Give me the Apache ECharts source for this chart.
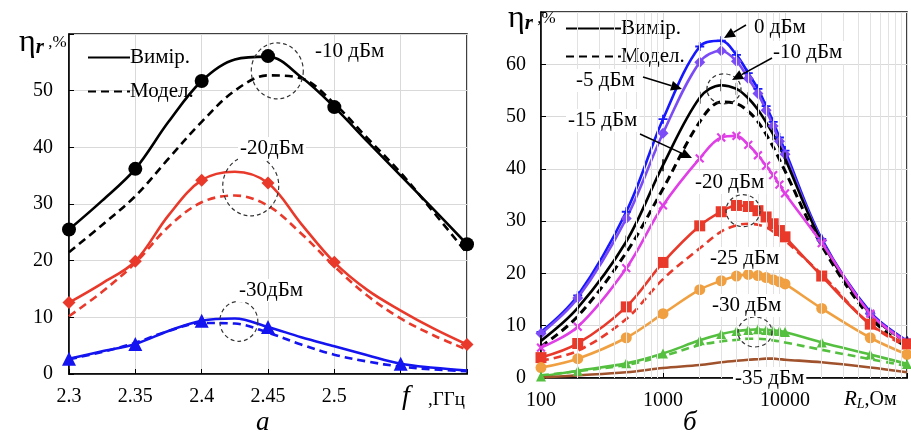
<!DOCTYPE html>
<html><head><meta charset="utf-8">
<script src="https://cdn.jsdelivr.net/npm/echarts@6/dist/echarts.min.js"></script>
<style>html,body{margin:0;padding:0;background:#fff}#c{width:911px;height:438px}</style>
</head><body><div id="c"></div>
<script>
// ---------- Panel (a): efficiency vs frequency ----------
const fGrid = [2.3,2.325,2.35,2.375,2.4,2.425,2.45,2.475,2.5,2.525,2.55,2.575,2.6];
const a10Meas = [25.5,30.6,36.2,44.5,51.7,55.5,56.0,52.4,47.1,41.0,35.0,29.0,22.9];
const a10Model = [21.5,26.3,31.4,38.0,44.5,50.0,52.7,52.2,47.7,41.6,35.5,28.5,21.3];
const a20Meas = [12.6,16.0,19.9,28.0,34.2,35.7,33.7,26.5,19.7,14.8,11.2,8.0,5.2];
const a20Model = [10.2,14.5,19.6,26.0,30.3,31.5,29.7,24.8,19.0,13.8,9.8,6.8,4.3];
const a30Meas = [2.7,4.0,5.3,7.6,9.4,9.8,8.3,6.5,4.9,3.3,1.8,1.1,0.6];
const a30Model = [2.6,3.9,5.5,7.6,9.0,8.9,7.3,5.2,3.4,2.2,1.3,0.8,0.5];
const aPtsF10 = [2.3,2.35,2.4,2.45,2.5,2.6];
const aPts10 = [25.5,36.2,51.7,56.1,47.1,22.9];
const aPtsF20 = [2.3,2.35,2.4,2.45,2.5,2.6];
const aPts20 = [12.6,19.9,34.2,33.7,19.7,5.2];
const aPtsF30 = [2.3,2.35,2.4,2.45,2.55];
const aPts30 = [2.7,5.3,9.4,8.3,1.8];
const aXTicks = ['2.3','2.35','2.4','2.45','2.5'];
const aYTicks = ['0','10','20','30','40','50'];
// annotation circles (f, value)
const aCircles = [[2.457,53.5],[2.437,33.2],[2.428,9.3]];

// ---------- Panel (б): efficiency vs load resistance ----------
const R = [100,200,500,1000,2000,3000,4000,5000,6000,7000,8000,9000,10000,20000,50000,100000];
const b0 = [8.8,15.8,31.8,49.5,63.4,64.5,61.8,58.3,55.3,52.0,49.0,46.0,43.5,26.6,12.6,7.1];
const b5 = [8.5,15.3,30.5,46.8,60.4,62.6,60.6,57.3,54.4,51.2,48.2,45.3,42.8,26.3,12.3,7.0];
const b10 = [7.1,13.4,26.1,40.7,53.6,56.0,55.3,53.5,51.3,48.9,46.6,44.3,42.0,26.1,12.2,6.8];
const b10Model = [6.0,11.8,24.0,36.2,49.0,52.8,52.5,51.0,49.0,46.6,44.2,41.8,39.6,25.3,11.6,5.8];
const b15 = [5.8,9.8,21.0,33.0,42.0,46.0,46.3,44.6,42.6,40.6,38.8,37.0,35.3,25.8,12.3,6.8];
const b20 = [3.9,6.6,13.6,22.1,29.1,31.8,33.0,32.8,32.0,30.8,29.5,28.2,27.0,19.5,10.3,6.5];
const b20Model = [3.3,5.2,11.3,18.9,24.8,28.0,29.2,29.5,29.3,28.8,28.0,27.2,26.3,19.8,10.2,6.0];
const b25 = [2.0,3.7,7.7,12.3,16.9,18.6,19.5,19.8,19.6,19.2,18.8,18.4,18.0,13.3,7.7,4.5];
const b30 = [0.3,1.4,2.8,4.7,7.2,8.4,9.0,9.2,9.3,9.2,9.1,9.0,8.8,6.8,4.5,2.7];
const b30Model = [0.5,1.3,2.5,4.2,6.3,7.0,7.3,7.5,7.5,7.4,7.2,7.0,6.8,5.4,3.6,2.3];
const b35 = [0.1,0.5,1.1,1.9,2.5,3.0,3.3,3.5,3.6,3.7,3.7,3.6,3.5,3.0,2.0,1.1];
const bXTicks = ['100','1000','10000'];
const bYTicks = ['0','10','20','30','40','50','60'];
const bMinorR = [200,300,400,500,600,700,800,900,2000,3000,4000,5000,6000,7000,8000,9000,20000,30000,40000,50000,60000,70000,80000,90000];
const bCircles = [[3160,55.3],[4530,32.0],[5680,8.8]];

const FONT = 'Liberation Serif';
const pair = (xs, ys) => xs.map((x,i)=>[x,ys[i]]);
const GRIDC = '#d9d9d9';

function lineS(name, xi, xs, ys, color, opts) {
  opts = opts || {};
  return Object.assign({
    name: name, type: 'line', xAxisIndex: xi, yAxisIndex: xi,
    data: pair(xs, ys), smooth: 0.35, symbol: 'none', silent: true,
    lineStyle: {color: color, width: 2.6, type: opts.dashed ? [8,5] : 'solid'},
    itemStyle: {color: color}, z: 3
  }, opts.extra || {});
}
function ptsS(xi, xs, ys, color, symbol, size, extra) {
  return Object.assign({
    type: 'scatter', xAxisIndex: xi, yAxisIndex: xi, data: pair(xs, ys),
    symbol: symbol, symbolSize: size, itemStyle: {color: color, opacity: 1}, z: 4, silent: true
  }, extra || {});
}
function circS(xi, pts, sizes) {
  return {
    type: 'scatter', xAxisIndex: xi, yAxisIndex: xi, silent: true, z: 6,
    data: pts.map((p,i)=>({value: p, symbolSize: sizes[i]})),
    symbol: 'circle',
    itemStyle: {color: 'rgba(0,0,0,0)', borderColor: '#333', borderWidth: 1.2, borderType: [4,3], opacity: 1}
  };
}
const PLUS = 'path://M4,0H6V4H10V6H6V10H4V6H0V4H4Z';

const series = [
  // legend dummies
  {name: 'Вимір.', type: 'line', xAxisIndex: 0, yAxisIndex: 0, data: [], symbol: 'none', lineStyle: {color: '#000', width: 3, type: 'solid'}, itemStyle: {color: '#000'}},
  {name: 'Модел.', type: 'line', xAxisIndex: 0, yAxisIndex: 0, data: [], symbol: 'none', lineStyle: {color: '#000', width: 3, type: [8,5]}, itemStyle: {color: '#000'}},
  // panel a
  lineS('a10', 0, fGrid, a10Model, '#000', {dashed: true}),
  lineS('a10m', 0, fGrid, a10Meas, '#000'),
  ptsS(0, aPtsF10, aPts10, '#000', 'circle', 14),
  lineS('a20', 0, fGrid, a20Model, '#e8392b', {dashed: true}),
  lineS('a20m', 0, fGrid, a20Meas, '#e8392b'),
  ptsS(0, aPtsF20, aPts20, '#e8392b', 'diamond', 13),
  lineS('a30', 0, fGrid, a30Model, '#1414f0', {dashed: true}),
  lineS('a30m', 0, fGrid, a30Meas, '#1414f0'),
  ptsS(0, aPtsF30, aPts30, '#1414f0', 'triangle', 14),
  circS(0, aCircles, [[52,56],[56,60],[38,40]]),
  // panel b minor grid
  {type: 'line', xAxisIndex: 1, yAxisIndex: 1, data: [], silent: true, z: 1,
   markLine: {silent: true, symbol: 'none', animation: false, label: {show: false},
     lineStyle: {color: '#e2e2e2', width: 1, type: 'solid'},
     data: bMinorR.map(v=>({xAxis: v}))}},
  // panel b
  lineS('b0', 1, R, b0, '#1818ff', {extra: {symbol: PLUS, symbolSize: 9, showSymbol: true}}),
  lineS('b5', 1, R, b5, '#7b4cf6', {extra: {symbol: 'diamond', symbolSize: 11, showSymbol: true}}),
  lineS('b10d', 1, R, b10Model, '#000', {dashed: true, extra: {lineStyle: {color: '#000', width: 3, type: [8,5]}}}),
  lineS('b10', 1, R, b10, '#000', {extra: {symbol: 'rect', symbolSize: [1.5, 12], showSymbol: true}}),
  lineS('b15', 1, R, b15, '#e03ee6', {extra: {symbol: PLUS, symbolRotate: 45, symbolSize: 11, showSymbol: true}}),
  lineS('b20d', 1, R, b20Model, '#e8392b', {dashed: true}),
  lineS('b20', 1, R, b20, '#e8392b', {extra: {symbol: 'rect', symbolSize: 11, showSymbol: true}}),
  lineS('b25', 1, R, b25, '#f0a040', {extra: {symbol: 'circle', symbolSize: 11, showSymbol: true}}),
  lineS('b30d', 1, R, b30Model, '#55c040', {dashed: true}),
  lineS('b30', 1, R, b30, '#55c040', {extra: {symbol: 'triangle', symbolSize: 10, showSymbol: true}}),
  lineS('b35', 1, R, b35, '#a0522d'),
  circS(1, bCircles, [[34,30],[34,32],[34,30]])
];

function axisBase(extra) {
  return Object.assign({
    axisLine: {show: true, onZero: false, lineStyle: {color: '#000', width: 1.5}},
    axisTick: {show: true, inside: true, length: 5, lineStyle: {color: '#000'}},
    splitLine: {show: true, lineStyle: {color: GRIDC, width: 1}}
  }, extra);
}
const lbl = (margin, allowed, round100) => ({
  fontFamily: FONT, fontSize: 20, color: '#000', margin: margin,
  formatter: v => { const s = String(round100 ? Math.round(v * 100) / 100 : Math.round(v)); return allowed.indexOf(s) >= 0 ? s : ''; }
});

const TFONT = '21px "Liberation Serif"';
function txt(x, y, s) {
  return {type: 'text', left: x, top: y, z: 100, silent: true, style: {text: s, font: TFONT, fill: '#000'}};
}
function bgtxt(x, y, s) {
  return {type: 'text', left: x, top: y, z: 100, silent: true,
    style: {text: s, font: TFONT, fill: '#000', backgroundColor: '#fff', padding: [1,2]}};
}
function arrow(x1, y1, x2, y2) {
  const ang = Math.atan2(y2 - y1, x2 - x1), L = 11, W = 5;
  const bx = x2 - L * Math.cos(ang), by = y2 - L * Math.sin(ang);
  const px = -Math.sin(ang) * W, py = Math.cos(ang) * W;
  return [
    {type: 'line', z: 100, silent: true, shape: {x1: x1, y1: y1, x2: bx, y2: by}, style: {stroke: '#000', lineWidth: 1.5}},
    {type: 'polygon', z: 100, silent: true, shape: {points: [[x2, y2], [bx + px, by + py], [bx - px, by - py]]}, style: {fill: '#000'}}
  ];
}
const etaRich = {
  e: {fontFamily: FONT, fontSize: 32, fill: '#000'},
  r: {fontFamily: FONT, fontSize: 21, fontStyle: 'italic', fontWeight: 'bold', fill: '#000', padding: [10,0,0,0]},
  p: {fontFamily: FONT, fontSize: 17, fill: '#000'}
};

const graphic = [
  {type: 'text', left: 19, top: 27, z: 100, style: {text: '{e|η}{r|r}{p| ,%}', rich: etaRich}},
  {type: 'text', left: 508, top: 3, z: 100, style: {text: '{e|η}{r|r}{p| ,%}', rich: etaRich}},
  {type: 'text', left: 402, top: 383, z: 100, style: {text: 'f', font: 'italic 28px "Liberation Serif"', fill: '#000'}},
  {type: 'text', left: 428, top: 391, z: 100, style: {text: ',ГГц', font: '19px "Liberation Serif"', fill: '#000'}},
  {type: 'text', left: 844, top: 389, z: 100, style: {text: '{f|R}{s|L}{p|,Ом}', rich: {
    f: {fontFamily: FONT, fontSize: 21, fontStyle: 'italic', fill: '#000'},
    s: {fontFamily: FONT, fontSize: 14, fontStyle: 'italic', fill: '#000', padding: [10,0,0,0]},
    p: {fontFamily: FONT, fontSize: 20, fill: '#000'}}}},
  {type: 'text', left: 256, top: 409, z: 100, style: {text: 'а', font: 'italic 27px "Liberation Serif"', fill: '#000'}},
  {type: 'text', left: 683, top: 409, z: 100, style: {text: 'б', font: 'italic 27px "Liberation Serif"', fill: '#000'}},
  // panel a labels
  txt(315, 41, '-10 дБм'),
  bgtxt(238, 137, '-20дБм'),
  bgtxt(237, 279, '-30дБм'),
  // panel b labels
  txt(754, 17, '0 дБм'),
  bgtxt(771, 41, '-10 дБм'),
  bgtxt(574, 69, '-5 дБм'),
  bgtxt(566, 109, '-15 дБм'),
  bgtxt(693, 171, '-20 дБм'),
  bgtxt(708, 247, '-25 дБм'),
  bgtxt(710, 294, '-30 дБм'),
  bgtxt(733, 367, '-35 дБм')
].concat(arrow(746, 25, 724, 38))
 .concat(arrow(772, 58, 732, 80))
 .concat(arrow(643, 77, 682, 89))
 .concat(arrow(640, 134, 692, 158));

const legendText = {fontFamily: FONT, fontSize: 21, color: '#000', padding: [0,0,0,-5]};
const option = {
  animation: false,
  backgroundColor: '#fff',
  grid: [
    {left: 69, top: 34, width: 398, height: 340, show: true, borderColor: '#000', borderWidth: 1.5, backgroundColor: 'transparent', containLabel: false},
    {left: 541, top: 12, width: 366, height: 366, show: true, borderColor: '#000', borderWidth: 1.5, backgroundColor: 'transparent', containLabel: false}
  ],
  legend: [
    {left: 82, top: 42, orient: 'vertical', itemWidth: 42, itemHeight: 14, itemGap: 13,
     data: ['Вимір.', 'Модел.'], selectedMode: false, itemStyle: {opacity: 0}, textStyle: legendText},
    {left: 560, top: 13, orient: 'vertical', itemWidth: 55, itemHeight: 14, itemGap: 7,
     data: ['Вимір.', 'Модел.'], selectedMode: false, itemStyle: {opacity: 0}, textStyle: legendText}
  ],
  xAxis: [
    axisBase({type: 'value', gridIndex: 0, min: 2.3, max: 2.6, interval: 0.05, axisLabel: lbl(13, aXTicks, true)}),
    axisBase({type: 'log', gridIndex: 1, logBase: 10, min: 100, max: 100000, axisLabel: lbl(13, bXTicks, false)})
  ],
  yAxis: [
    axisBase({type: 'value', gridIndex: 0, min: 0, max: 60, interval: 10, axisLabel: lbl(16, aYTicks, false)}),
    axisBase({type: 'value', gridIndex: 1, min: 0, max: 70, interval: 10, axisLabel: lbl(15, bYTicks, false)})
  ],
  series: series,
  graphic: graphic
};

const chart = echarts.init(document.getElementById('c'), null, {renderer: 'canvas'});
chart.setOption(option);
</script></body></html>
